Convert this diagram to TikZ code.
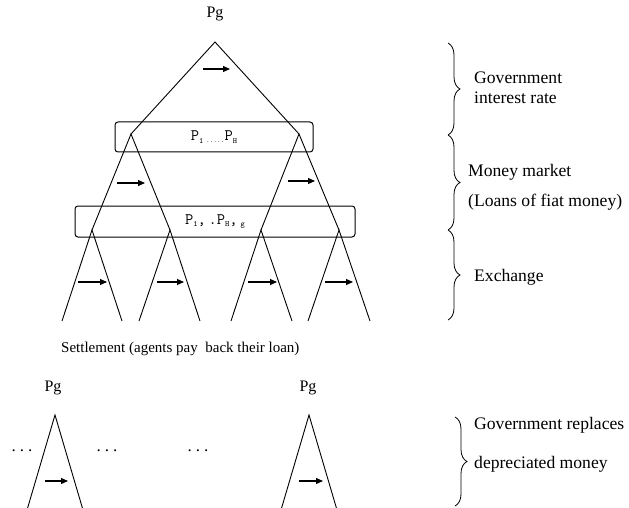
\documentclass[tikz,border=0pt]{standalone}
\usepackage{fontspec}
\setmainfont{Liberation Serif}
\usetikzlibrary{arrows.meta,decorations.pathreplacing}
\newcommand\lowsub[1]{\raisebox{-0.4ex}{\fontsize{8}{8}\selectfont #1}}
\begin{document}
\begin{tikzpicture}[x=1pt,y=-1pt,
  leg/.style={line width=0.9pt},
  flow/.style={line width=1.1pt,-{Triangle[length=7pt,width=6pt]}},
  market/.style={draw,rounded corners=3pt,line width=1pt,inner sep=0pt,font=\ttfamily\fontsize{16}{16}\selectfont},
  lbl/.style={font=\fontsize{17.6}{20.5}\selectfont,anchor=west,inner sep=0pt,align=left},
  price/.style={font=\fontsize{16}{16}\selectfont,inner sep=0pt},
  dotsl/.style={font=\fontsize{17}{17}\selectfont,inner sep=0pt},
  brc/.style={decorate,decoration={brace,amplitude=12pt},line width=0.8pt}]
\useasboundingbox (0,0) rectangle (629,508);

% ---------- upper diagram ----------
\node[price] (pgtop) at (215,14) {Pg};
\coordinate (T) at (215,42);
\coordinate (L1) at (131,134);
\coordinate (R1) at (299,134);
\coordinate (A1) at (92,230);
\coordinate (A2) at (170,230);
\coordinate (A3) at (261,230);
\coordinate (A4) at (339,230);
\coordinate (b1l) at (62,321);  \coordinate (b1r) at (122,321);
\coordinate (b2l) at (139,321); \coordinate (b2r) at (200,321);
\coordinate (b3l) at (231,321); \coordinate (b3r) at (292,321);
\coordinate (b4l) at (308,321); \coordinate (b4r) at (370,321);

\draw[leg] (L1) -- (T) -- (R1);
\draw[leg] (A1) -- (L1) -- (A2);
\draw[leg] (A3) -- (R1) -- (A4);
\draw[leg] (b1l) -- (A1) -- (b1r);
\draw[leg] (b2l) -- (A2) -- (b2r);
\draw[leg] (b3l) -- (A3) -- (b3r);
\draw[leg] (b4l) -- (A4) -- (b4r);

\node[market,minimum width=198pt,minimum height=30pt] (box1) at (214,137)
  {P\lowsub{1}\,\raisebox{-0.3ex}{\fontsize{7}{7}\selectfont.....}P\lowsub{H}};
\node[market,minimum width=280pt,minimum height=31pt] (box2) at (215,221.5)
  {P\lowsub{1},\hspace{3pt}.P\lowsub{H},\hspace{3pt}\lowsub{g}};

\coordinate (f0s) at (203,69);  \coordinate (f0e) at (230,69);
\coordinate (f1s) at (117,183); \coordinate (f1e) at (145,183);
\coordinate (f2s) at (288,181); \coordinate (f2e) at (315,181);
\coordinate (f3s) at (78,282);  \coordinate (f3e) at (107,282);
\coordinate (f4s) at (157,282); \coordinate (f4e) at (184,282);
\coordinate (f5s) at (248,282); \coordinate (f5e) at (277,282);
\coordinate (f6s) at (325,282); \coordinate (f6e) at (353,282);
\foreach \i in {0,...,6} {\draw[flow] (f\i s) -- (f\i e);}

% braces and labels
\coordinate (br0) at (448,43);
\coordinate (br1) at (448,135);
\coordinate (br2) at (448,230);
\coordinate (br3) at (448,320);
\draw[brc] (br0) -- (br1);
\draw[brc] (br1) -- (br2);
\draw[brc] (br2) -- (br3);
\node[lbl] (gov) at (474,88) {Government\\interest rate};
\node[lbl] (mm) at (468,172) {Money market};
\node[lbl] (loans) at (468,202) {(Loans of fiat money)};
\node[lbl] (ex) at (474,277) {Exchange};

\node[anchor=west,inner sep=0pt,font=\fontsize{15}{15}\selectfont] (settle) at (61,349)
  {Settlement (agents pay \ back their loan)};

% ---------- lower diagram ----------
\node[price] (pg1) at (53,388) {Pg};
\node[price] (pg2) at (308,388) {Pg};
\coordinate (G1) at (55,415);
\coordinate (G2) at (309,415);
\coordinate (g1l) at (27,510); \coordinate (g1r) at (83,510);
\coordinate (g2l) at (281,510); \coordinate (g2r) at (337,510);
\draw[leg] (g1l) -- (G1) -- (g1r);
\draw[leg] (g2l) -- (G2) -- (g2r);
\coordinate (h1s) at (45,481); \coordinate (h1e) at (68,481);
\coordinate (h2s) at (299,481); \coordinate (h2e) at (323,481);
\draw[flow] (h1s) -- (h1e);
\draw[flow] (h2s) -- (h2e);
\node[dotsl] (d1) at (22,451) {.\hspace{4pt}.\hspace{4pt}.};
\node[dotsl] (d2) at (107,451) {.\hspace{4pt}.\hspace{4pt}.};
\node[dotsl] (d3) at (198,451) {.\hspace{4pt}.\hspace{4pt}.};
\coordinate (bb0) at (455,417);
\coordinate (bb1) at (455,506);
\draw[brc] (bb0) -- (bb1);
\node[lbl] (rep) at (474,425) {Government replaces};
\node[lbl] (dep) at (474,464) {depreciated money};
\end{tikzpicture}
\end{document}
